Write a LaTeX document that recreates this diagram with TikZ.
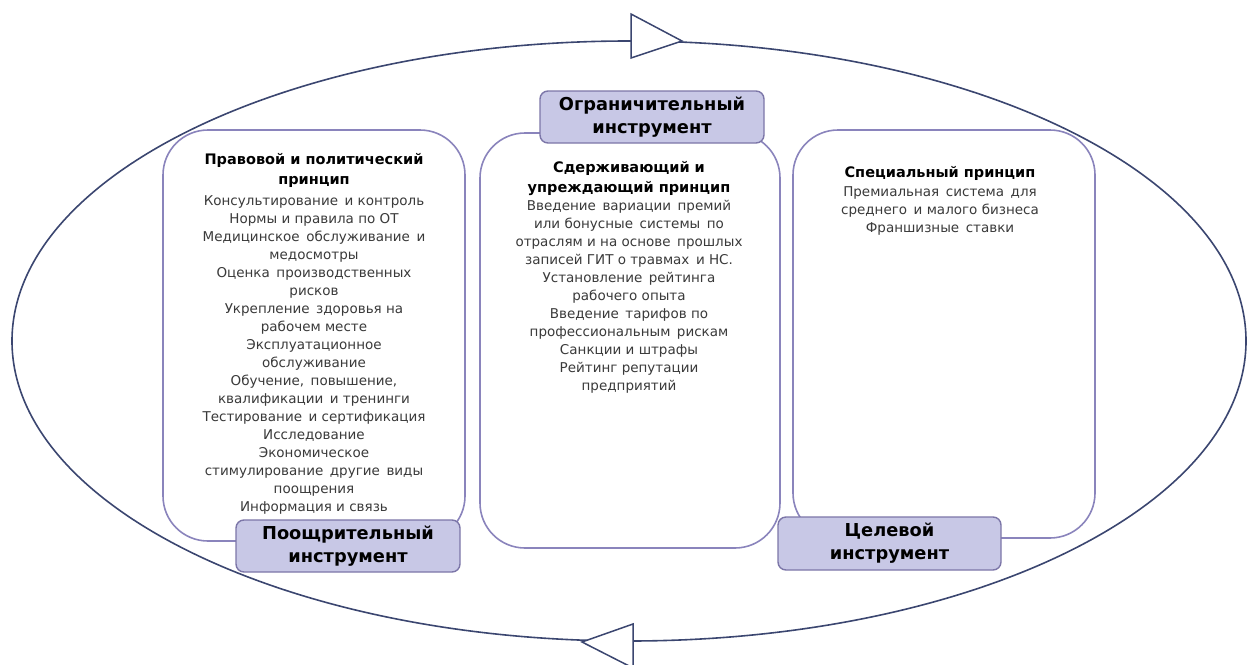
\documentclass[tikz,border=0pt]{standalone}
\usepackage{fontspec}
\setmainfont{DejaVu Sans}
\definecolor{ringc}{HTML}{3B4670}
\definecolor{boxc}{HTML}{8A84BC}
\definecolor{labfill}{HTML}{C8C8E6}
\definecolor{labdraw}{HTML}{7C76A8}
\definecolor{txtc}{HTML}{3A3A3A}
\begin{document}
\begin{tikzpicture}[x=1pt,y=-1pt,
  panel/.style={draw=boxc,line width=1.6pt,rounded corners=45pt,fill=white,inner sep=0pt},
  lab/.style={draw=labdraw,line width=1.4pt,rounded corners=8pt,fill=labfill,inner sep=0pt,
    align=center,font=\fontsize{17.8}{23}\selectfont\bfseries,text=black},
  body/.style={align=center,inner sep=0pt,anchor=north,text=txtc,font=\fontsize{13.5}{18}\selectfont},
  ttl/.style={align=center,inner sep=0pt,anchor=north,text=black,font=\fontsize{14.5}{20.5}\selectfont\bfseries},
  tri/.style={draw=ringc,line width=1.5pt,fill=white,line join=miter}]
\useasboundingbox (0,0) rectangle (1247,664);
% outer cycle
\draw[ringc,line width=1.6pt] (629,341) ellipse [x radius=617, y radius=300];
\draw[tri] (631,14) -- (682,41) -- (631,58) -- cycle;
\draw[tri] (633,624) -- (582,642) -- (633,668) -- cycle;
% panels
\node[panel,minimum width=302pt,minimum height=411pt] (pl) at (314,335.5) {};
\node[panel,minimum width=300pt,minimum height=415pt] (pm) at (630,340.5) {};
\node[panel,minimum width=302pt,minimum height=408pt] (pr) at (944,334) {};
% texts left
\node[ttl] (tl) at (314,153) {Правовой и политический\\принцип};
\node[body] (bl) at (314,195) {Консультирование\, и контроль\\Нормы и правила по ОТ\\Медицинское\, обслуживание\, и\\медосмотры\\Оценка\, производственных\\рисков\\Укрепление\, здоровья на\\рабочем месте\\Эксплуатационное\\обслуживание\\Обучение,\, повышение,\\квалификации\, и тренинги\\Тестирование\, и сертификация\\Исследование\\Экономическое\\стимулирование\, другие\, виды\\поощрения\\Информация и связь};
% texts middle
\node[ttl] (tm) at (629,161) {Сдерживающий и\\упреждающий принцип};
\node[body] (bm) at (629,200) {Введение\, вариации\, премий\\или бонусные\, системы\, по\\отраслям и на основе\, прошлых\\записей ГИТ о травмах\, и НС.\\Установление\, рейтинга\\рабочего опыта\\Введение\, тарифов по\\профессиональным\, рискам\\Санкции и штрафы\\Рейтинг репутации\\предприятий};
% texts right
\node[ttl] (tr) at (940,166) {Специальный принцип};
\node[body] (br) at (940,186) {Премиальная\, система\, для\\среднего\, и малого бизнеса\\Франшизные\, ставки};
% labels
\node[lab,minimum width=224pt,minimum height=52pt] (lt) at (652,117) {Ограничительный\\инструмент};
\node[lab,minimum width=224pt,minimum height=52pt] (ll) at (348,546) {Поощрительный\\инструмент};
\node[lab,minimum width=223pt,minimum height=53pt] (lr) at (889.5,543.5) {Целевой\\инструмент};
\end{tikzpicture}
\end{document}
